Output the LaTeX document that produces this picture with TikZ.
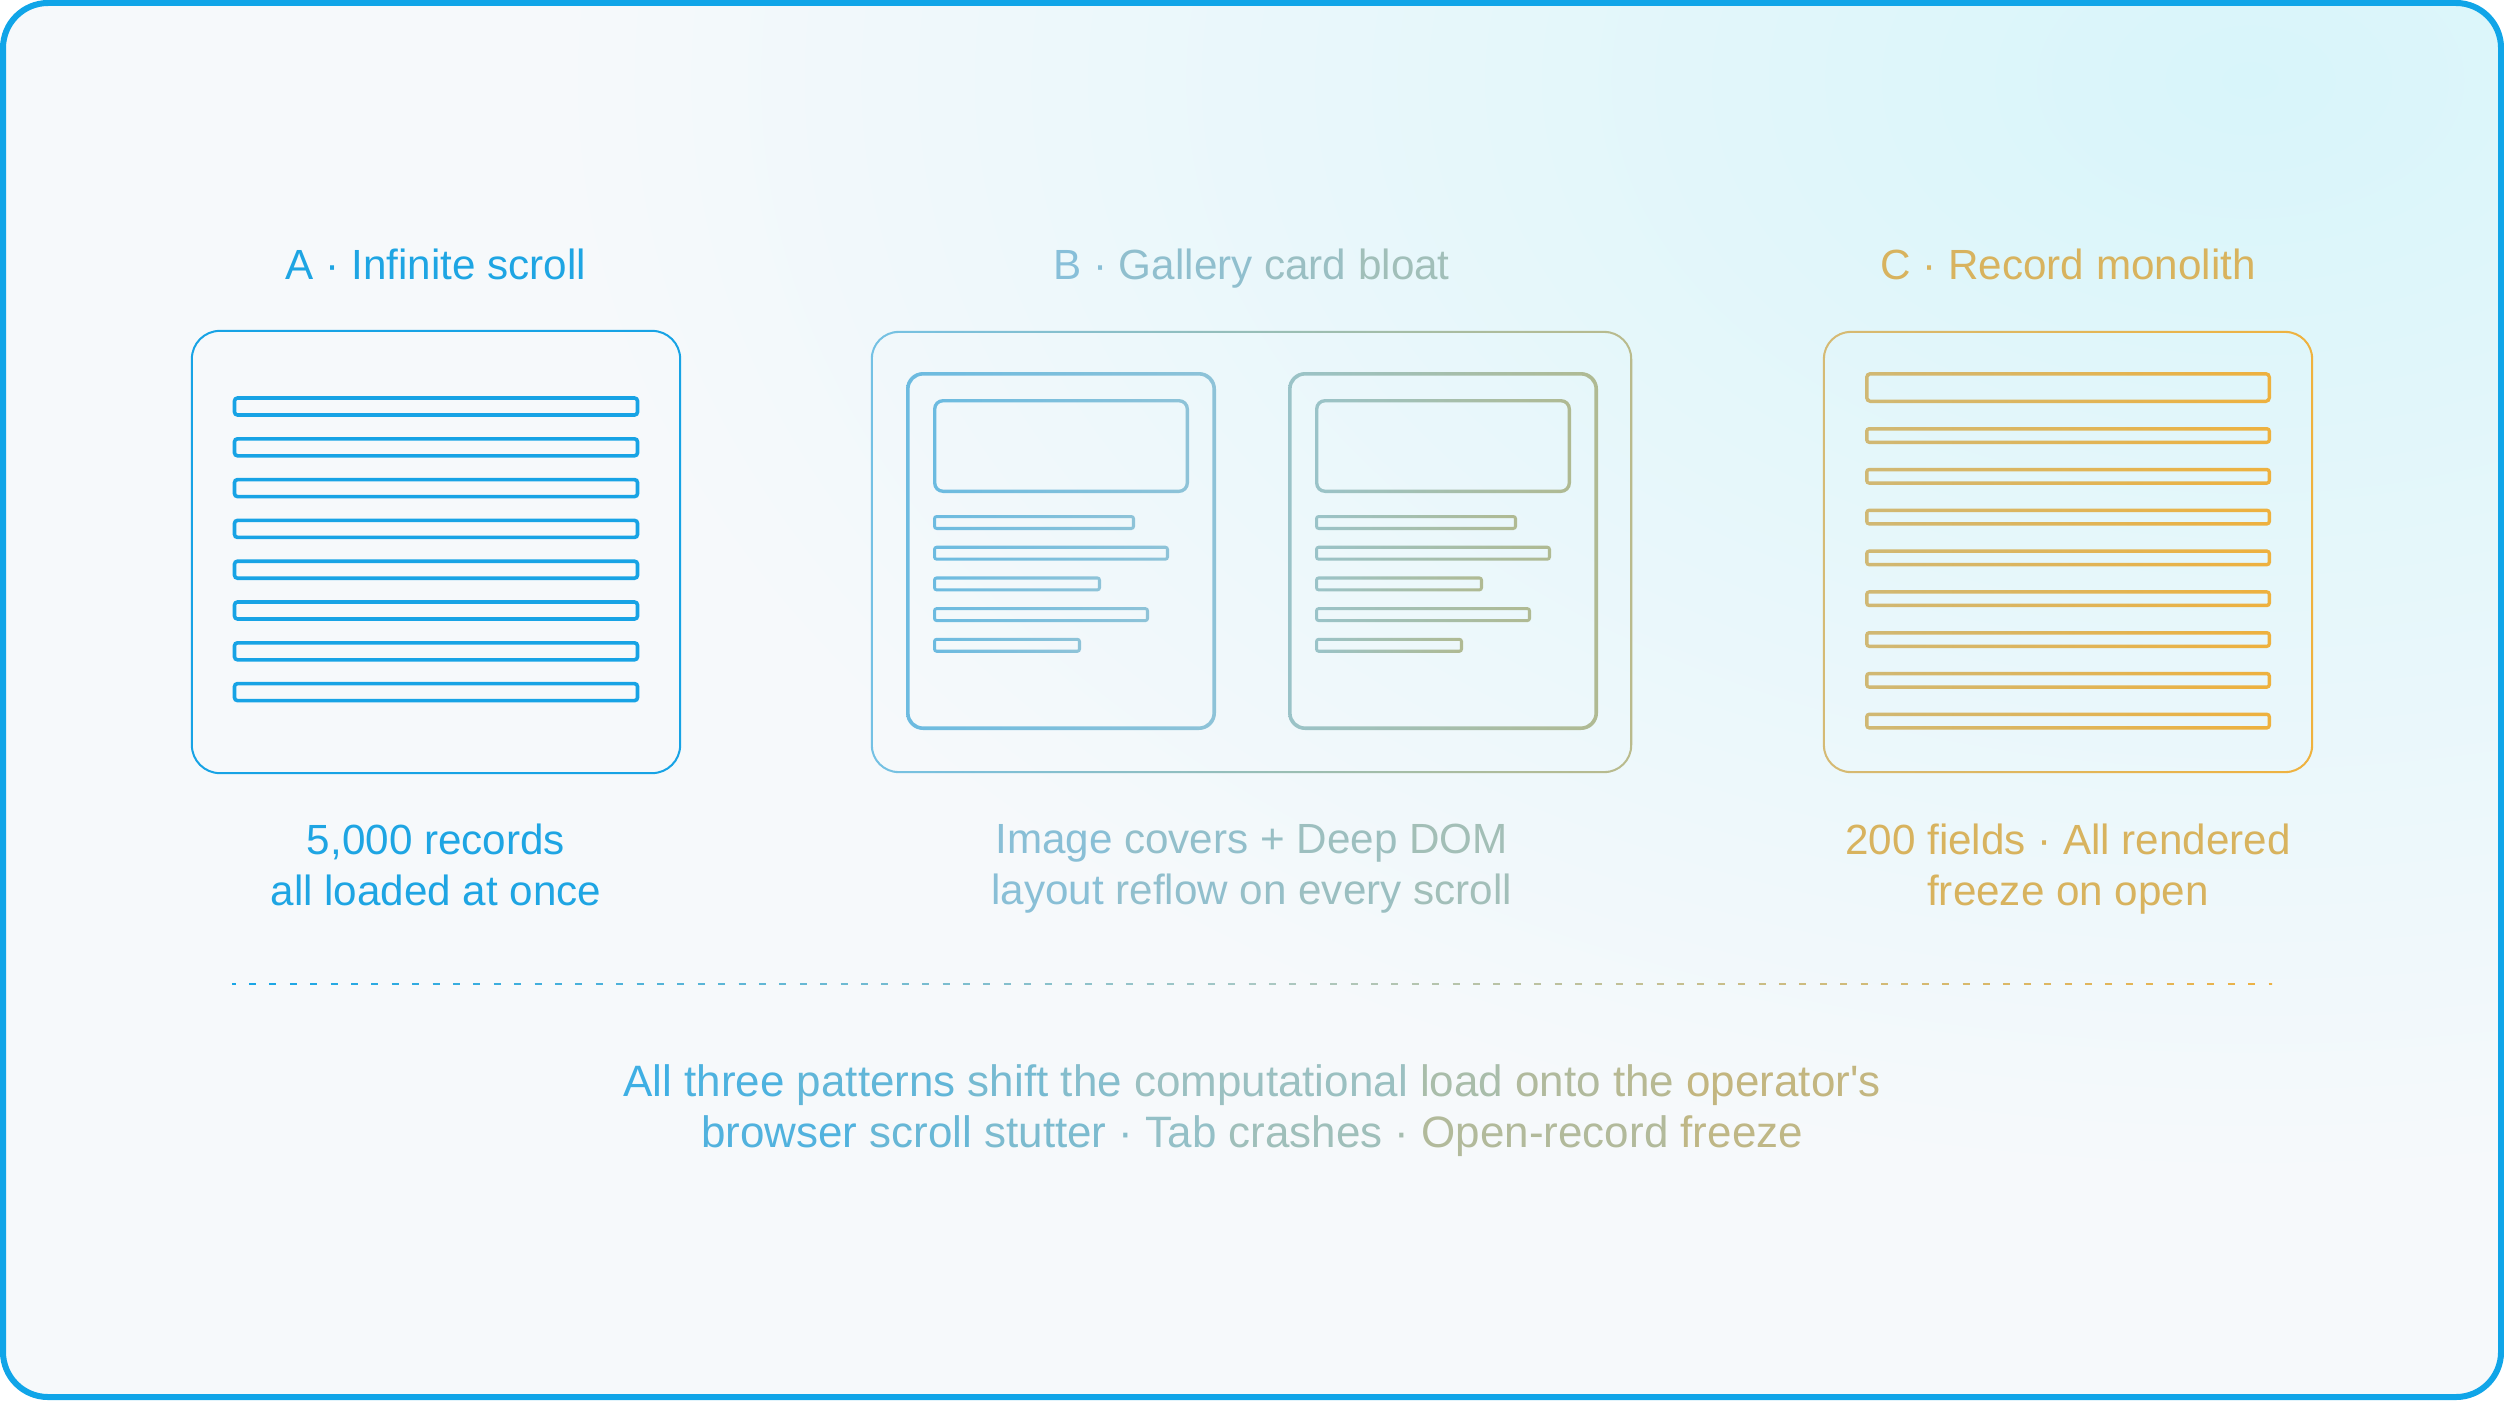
\documentclass[tikz,border=0pt]{standalone}
\usepackage{fontspec}
\setmainfont{Liberation Sans}
\usetikzlibrary{positioning}

\definecolor{bgc}{HTML}{F6F9FB}
\definecolor{glowc}{HTML}{D8F5FA}
\definecolor{cBorder}{HTML}{10A5E8}
\definecolor{cA}{HTML}{17A3E5}
\definecolor{aText}{HTML}{1EA5E3}
\definecolor{bF1}{HTML}{74C1E4}
\definecolor{bF2}{HTML}{BABB8C}
\definecolor{bL1}{HTML}{6CBBE0}
\definecolor{bL2}{HTML}{8EC3D8}
\definecolor{bR1}{HTML}{9AC3C8}
\definecolor{bR2}{HTML}{B0BA92}
\definecolor{cF1}{HTML}{D5BA74}
\definecolor{cF2}{HTML}{EFB23E}
\definecolor{cB1}{HTML}{D0B874}
\definecolor{cB2}{HTML}{EEB13E}
\definecolor{cText}{HTML}{D8B35E}
\definecolor{bL}{HTML}{86BFDA}
\definecolor{bR}{HTML}{A6BFB4}
\definecolor{fblue}{HTML}{3AAEE5}
\definecolor{fmid}{HTML}{98C1C6}
\definecolor{ftan}{HTML}{CAB474}
\definecolor{dblue}{HTML}{1AA6E6}
\definecolor{dmid}{HTML}{A9C8C4}
\definecolor{dgold}{HTML}{ECB246}

% outline with a left-to-right colour run: corner, corner, width, radius, shading
\newcommand\gring[5]{%
  \shade[#5,even odd rule,rounded corners=#4] (#1) rectangle (#2)
    [rounded corners=#4-#3] ([shift={(#3,-#3)}]#1) rectangle ([shift={(-#3,#3)}]#2);}
% word colours
\newcommand\bw[2]{\textcolor{bR!#1!bL}{#2}}
\newcommand\gw[2]{\ifnum#1<50 \edef\gwq{\the\numexpr 2*#1\relax}\textcolor{fmid!\gwq!fblue}{#2}%
  \else\edef\gwq{\the\numexpr 2*#1-100\relax}\textcolor{ftan!\gwq!fmid}{#2}\fi}

\begin{document}
\begin{tikzpicture}[
        x=0.01cm, y=-0.01cm,
        frame/.style = {minimum height=4.42cm, inner sep=0pt, outer sep=0pt},
        title/.style = {font=\fontsize{12}{14.5}\selectfont, inner sep=0pt, text depth=0pt},
        note/.style = {font=\fontsize{12}{14.5}\selectfont, align=center, inner sep=0pt},
        bar/.style = {draw=cA, line width=0.036cm, rounded corners=0.03cm},
]
        \useasboundingbox (0,0) rectangle (2504,1400);
        \begin{scope}
            \clip[rounded corners=0.48cm] (0,0) rectangle (2504,1400);
            \fill[bgc] (0,0) rectangle (2504,1400);
            \shade[inner color=glowc, outer color=bgc] (2250,80) ellipse [x radius=17cm, y radius=11cm];
        \end{scope}
        \draw[cBorder, line width=0.06cm, rounded corners=0.45cm] (3,3) rectangle (2501,1397);

        % panels
        \node[frame, draw=cA, line width=0.02cm, rounded corners=0.28cm, minimum width=4.88cm] (fA) at (436,552) {};
        \node[frame, minimum width=7.61cm] (fB) at (1251.5,552) {};
        \node[frame, minimum width=4.90cm] (fC) at (2068,552) {};
        \gring{fB.north west}{fB.south east}{0.02cm}{0.28cm}{left color=bF1, right color=bF2}
        \gring{fC.north west}{fC.south east}{0.02cm}{0.28cm}{left color=cF1, right color=cF2}

        % A: list rows
        \foreach \i in {0,...,7}
            \draw[bar] (234.5,398+40.8*\i) rectangle (637.5,415+40.8*\i);

        % B: two cards
        \foreach \dx/\ca/\cb in {0/bL1/bL2, 382/bR1/bR2} {
            \gring{906+\dx,372}{1216+\dx,730}{0.036cm}{0.17cm}{left color=\ca, right color=\cb}
            \gring{933+\dx,399}{1189+\dx,493}{0.034cm}{0.1cm}{left color=\ca, right color=\cb}
            \foreach \w/\i in {1135/0,1169/1,1101/2,1149/3,1081/4} {
                \gring{933+\dx,515+30.7*\i}{\w+\dx,530+30.7*\i}{0.031cm}{0.035cm}{left color=\ca, right color=\cb}
            }
        }

        % C: field rows
        \gring{1865,372}{2271,403}{0.035cm}{0.05cm}{left color=cB1, right color=cB2}
        \foreach \i in {0,...,7} {
            \gring{1865,427+40.8*\i}{2271,444+40.8*\i}{0.035cm}{0.04cm}{left color=cB1, right color=cB2}
        }

        % titles
        \node[title, aText] (tA) [above=0.51cm of fA] {A · Infinite scroll};
        \node[title] (tB) [above=0.51cm of fB] {\bw{2}{B} \bw{10}{·} \bw{32}{Gallery} \bw{62}{card} \bw{86}{bloat}};
        \node[title, cText] (tC) [above=0.51cm of fC] {C · Record monolith};

        % notes under panels
        \node[note, aText] (sA) [below=0.5cm of fA] {5,000 records\\all loaded at once};
        \node[note] (sB) [below=0.5cm of fB] {\bw{11}{Image} \bw{39}{covers} \bw{57}{+} \bw{72}{Deep} \bw{91}{DOM}\\
            \bw{10}{layout} \bw{34}{reflow} \bw{50}{on} \bw{66}{every} \bw{88}{scroll}};
        \node[note, cText] (sC) [below=0.5cm of fC] {200 fields · All rendered\\freeze on open};

        % divider
        \begin{scope}
            \clip (232,970) rectangle (2272,1000);
            \foreach \i in {-1,...,99} {
                \pgfmathtruncatemacro\p{max(0,min(100,\i*100/98))}
                \ifnum\p<50 \pgfmathtruncatemacro\q{2*\p}\colorlet{dc}{dmid!\q!dblue}
                \else \pgfmathtruncatemacro\q{2*\p-100}\colorlet{dc}{dgold!\q!dmid}\fi
                \draw[dc, line width=0.022cm] (249+\i*20.4,984) -- ++(7,0);
            }
        \end{scope}
        \coordinate (mid) at (1252,984);

        % summary
        \node[note, font=\fontsize{12.5}{14.5}\selectfont] (foot) [below=0.8cm of mid] {\gw{2}{All} \gw{10}{three} \gw{21}{patterns} \gw{32}{shift} \gw{40}{the}
            \gw{53}{computational} \gw{67}{load} \gw{75}{onto} \gw{81}{the} \gw{93}{operator\textquotesingle s}\\
            \gw{12}{browser} \gw{24}{scroll} \gw{35}{stutter} \gw{42}{·} \gw{48}{Tab} \gw{57}{crashes}
            \gw{64}{·} \gw{76}{Open-record} \gw{89}{freeze}};
\end{tikzpicture}
\end{document}
